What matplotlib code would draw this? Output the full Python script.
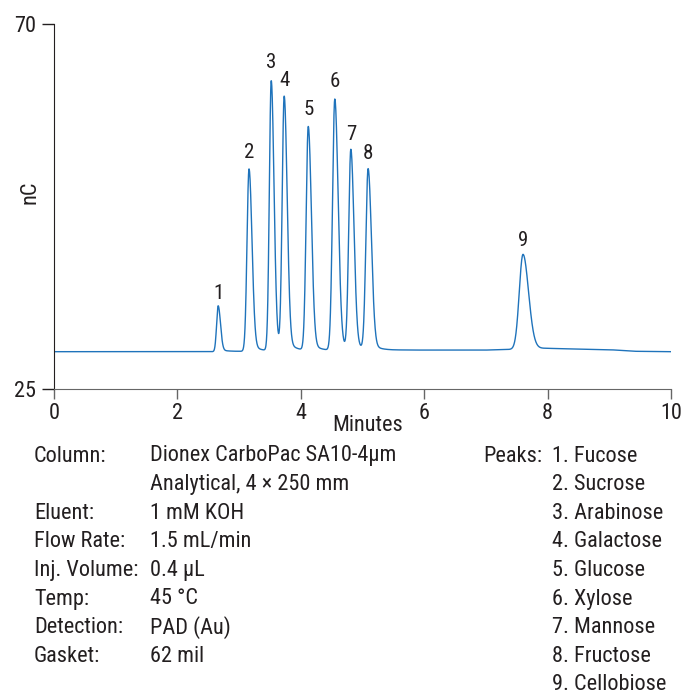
import numpy as np
import matplotlib.pyplot as plt
from matplotlib import font_manager as fm

# pick a condensed sans close to the Helvetica Condensed used in the original
installed = set(f.name for f in fm.fontManager.ttflist)
candidates = ['Roboto Condensed', 'Archivo Narrow', 'PT Sans Narrow', 'Liberation Sans Narrow',
              'Fira Sans Condensed', 'IBM Plex Sans Condensed', 'Open Sans Condensed', 'Roboto']
main_font = next((c for c in candidates if c in installed), 'DejaVu Sans')
plt.rcParams['font.family'] = [main_font, 'DejaVu Sans']

# peak table (minutes, nC at apex)
peak_ids = [1, 2, 3, 4, 5, 6, 7, 8, 9]
peak_rt = [2.66, 3.16, 3.52, 3.73, 4.12, 4.55, 4.81, 5.09, 7.60]
peak_top = [35.4, 52.7, 63.8, 61.6, 58.0, 61.5, 55.0, 52.6, 41.9]
peak_sigma = [0.025, 0.032, 0.030, 0.032, 0.034, 0.036, 0.034, 0.036, 0.060]

# baseline drift
base_t = [0.0, 2.5, 5.6, 7.0, 8.0, 9.0, 9.4, 10.0]
base_y = [29.6, 29.6, 29.8, 29.8, 30.0, 29.85, 29.65, 29.6]

xticks = [0, 2, 4, 6, 8, 10]

conditions = [
    ("Column:", "Dionex CarboPac SA10-4µm"),
    ("", "Analytical, 4 × 250 mm"),
    ("Eluent:", "1 mM KOH"),
    ("Flow Rate:", "1.5 mL/min"),
    ("Inj. Volume:", "0.4 µL"),
    ("Temp:", "45 °C"),
    ("Detection:", "PAD (Au)"),
    ("Gasket:", "62 mil"),
]
peak_names = ["Fucose", "Sucrose", "Arabinose", "Galactose", "Glucose",
              "Xylose", "Mannose", "Fructose", "Cellobiose"]

# build the trace from the peak table
t = np.linspace(0, 10, 4001)
base = np.interp(t, base_t, base_y)
signal = base.copy()
for rt, top, s in zip(peak_rt, peak_top, peak_sigma):
    h = top - np.interp(rt, base_t, base_y)
    sr = s * 1.5
    shape = np.where(t < rt, np.exp(-0.5 * ((t - rt) / s) ** 2),
                     np.exp(-0.5 * ((t - rt) / sr) ** 2))
    tail = 0.05 * np.exp(-np.clip(t - rt, 0, None) / 0.12) / (1 + np.exp(-(t - rt) / (0.4 * sr)))
    signal += h * (shape * 0.95 + tail)

fig = plt.figure(figsize=(6.84, 6.96), dpi=100)
ax = fig.add_axes([54 / 684, 1 - 389 / 696, 617 / 684, 365 / 696])
ax.plot(t, signal, color='#1f73bb', lw=1.0)

for pid, rt, top in zip(peak_ids, peak_rt, peak_top):
    ax.text(rt, top + 0.25, str(pid), ha='center', va='bottom', fontsize=15, color='#231f20')

ax.set_xlim(0, 10)
ax.set_ylim(25, 70)
ax.set_xticks(xticks)
ax.set_yticks([25, 70])
ax.spines['top'].set_visible(False)
ax.spines['right'].set_visible(False)
ax.spines['bottom'].set_color('#666666')
ax.spines['left'].set_color('#231f20')
ax.tick_params(axis='y', length=9, width=1, pad=4, labelsize=16, colors='#231f20')
ax.tick_params(axis='x', length=7, width=1, pad=3, labelsize=16, color='#666666', labelcolor='#231f20')
ax.set_xlabel("Minutes", fontsize=16, color='#231f20')
ax.xaxis.set_label_coords(0.508, -0.07)

fig.text(30 / 684, 1 - 192 / 696, "nC", rotation=90, ha='center', va='center',
         fontsize=16, color='#231f20')

row_h = 28.6
y0 = 456
for i, (lab, val) in enumerate(conditions):
    y = 1 - (y0 + i * row_h) / 696
    fig.text(34 / 684, y, lab, fontsize=16, va='center', color='#231f20')
    fig.text(150 / 684, y, val, fontsize=16, va='center', color='#231f20')

fig.text(483 / 684, 1 - y0 / 696, "Peaks:", fontsize=16, va='center', color='#231f20')
for i, name in enumerate(peak_names):
    y = 1 - (y0 + i * row_h) / 696
    fig.text(552 / 684, y, f"{i + 1}. {name}", fontsize=16, va='center', color='#231f20')

fig.savefig("out.png", dpi=100)
